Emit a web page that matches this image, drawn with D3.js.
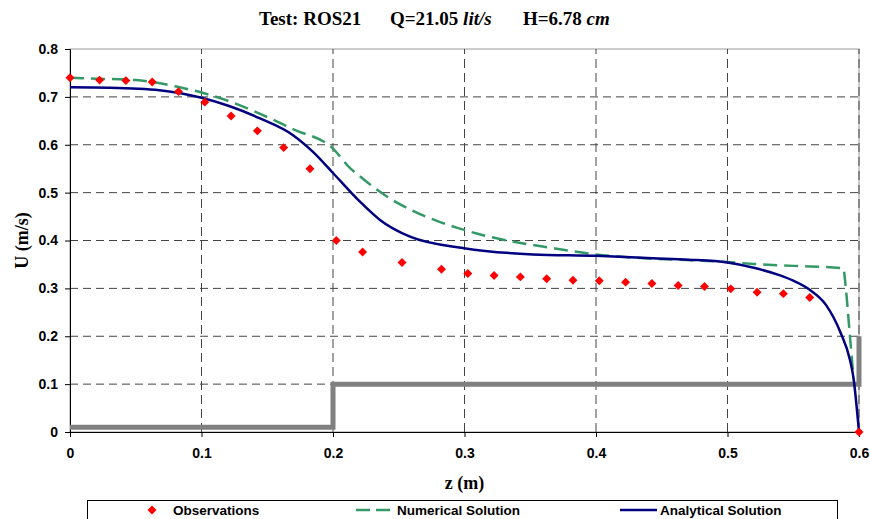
<!DOCTYPE html>
<html>
<head>
<meta charset="utf-8">
<script src="https://cdn.jsdelivr.net/npm/d3@7"></script>
<style>
  body { margin: 0; background: #fff; }
  svg { display: block; }
  .tick text { font-family: Arial, "Liberation Sans", sans-serif; font-weight: bold; font-size: 14px; fill: #000; }
</style>
</head>
<body>
<script>
// observed velocities (red diamonds)
var obsZ = [0, 0.0225, 0.0425, 0.0625, 0.0825, 0.1025, 0.1225, 0.1425, 0.1625, 0.1825,
            0.2025, 0.2225, 0.2525, 0.2825, 0.3025, 0.3225, 0.3425, 0.3625, 0.3825, 0.4025,
            0.4225, 0.4425, 0.4625, 0.4825, 0.5025, 0.5225, 0.5425, 0.5625, 0.6];
var obsU = [0.740, 0.735, 0.734, 0.731, 0.711, 0.689, 0.660, 0.629, 0.594, 0.550,
            0.400, 0.376, 0.354, 0.340, 0.331, 0.327, 0.324, 0.320, 0.317, 0.316,
            0.313, 0.310, 0.306, 0.304, 0.299, 0.292, 0.289, 0.281, 0];

// numerical solution (green dashed)
var numZ = [0, 0.02, 0.05, 0.08, 0.1, 0.12, 0.145, 0.17, 0.2, 0.213, 0.22, 0.233, 0.245,
            0.26, 0.279, 0.294, 0.31, 0.327, 0.365, 0.4, 0.43, 0.48, 0.5, 0.52, 0.55,
            0.588, 0.59, 0.5925, 0.5953];
var numU = [0.740, 0.738, 0.735, 0.722, 0.709, 0.692, 0.664, 0.632, 0.592, 0.551, 0.535, 0.507, 0.485,
            0.463, 0.441, 0.427, 0.414, 0.403, 0.385, 0.371, 0.364, 0.358, 0.355, 0.351, 0.347,
            0.342, 0.30, 0.22, 0.13];

// analytical solution (navy)
var anaZ = [0, 0.03, 0.068, 0.1, 0.1445, 0.1696, 0.1848, 0.2, 0.2205, 0.2357, 0.2586, 0.2996,
            0.352, 0.4, 0.443, 0.47, 0.5, 0.52, 0.54, 0.55, 0.5625, 0.575, 0.5856, 0.5932, 0.5957, 0.6];
var anaU = [0.720, 0.719, 0.714, 0.698, 0.655, 0.620, 0.585, 0.541, 0.481, 0.443, 0.408, 0.384,
            0.371, 0.368, 0.363, 0.360, 0.354, 0.343, 0.327, 0.316, 0.297, 0.265, 0.210, 0.150, 0.115, 0];

// channel bed step (grey)
var bedZ = [0, 0.2, 0.2, 0.6, 0.6];
var bedU = [0.01, 0.01, 0.1, 0.1, 0.2];

var xTicks = [0, 0.1, 0.2, 0.3, 0.4, 0.5, 0.6];
var yTicks = [0, 0.1, 0.2, 0.3, 0.4, 0.5, 0.6, 0.7, 0.8];

var width = 870, height = 519;
var margin = {left: 70, right: 11, top: 49, bottom: 87};

var svg = d3.select("body").append("svg")
    .attr("width", width)
    .attr("height", height);

var x = d3.scaleLinear().domain([0, 0.6]).range([margin.left, width - margin.right]);
var y = d3.scaleLinear().domain([0, 0.8]).range([height - margin.bottom, margin.top]);

var fmt = function(d) { return d === 0 ? "0" : d3.format(".1f")(d); };

// title
var title = svg.append("text")
    .attr("y", 25)
    .style("font-family", "'Times New Roman', 'Liberation Serif', serif")
    .style("font-weight", "bold")
    .style("font-size", "19px");
title.append("tspan").attr("x", 259).text("Test: ROS21");
title.append("tspan").attr("x", 390).text("Q=21.05 ");
title.append("tspan").style("font-style", "italic").text("lit/s");
title.append("tspan").attr("x", 523).text("H=6.78 ");
title.append("tspan").style("font-style", "italic").text("cm");

// plot frame
svg.append("rect")
    .attr("x", x(0)).attr("y", y(0.8))
    .attr("width", x(0.6) - x(0)).attr("height", y(0) - y(0.8))
    .attr("fill", "none").attr("stroke", "#999");

// grid
svg.append("g").selectAll("line")
    .data(yTicks.filter(function(d) { return d > 0 && d < 0.8; }))
    .enter().append("line")
    .attr("x1", x(0)).attr("x2", x(0.6))
    .attr("y1", function(d) { return y(d); }).attr("y2", function(d) { return y(d); })
    .attr("stroke", "#444").attr("stroke-dasharray", "8,5");

svg.append("g").selectAll("line")
    .data(xTicks.filter(function(d) { return d > 0; }))
    .enter().append("line")
    .attr("y1", y(0)).attr("y2", y(0.8))
    .attr("x1", function(d) { return x(d); }).attr("x2", function(d) { return x(d); })
    .attr("stroke", "#444").attr("stroke-dasharray", "9,5");

// axes
svg.append("g")
    .attr("transform", "translate(0," + y(0) + ")")
    .call(d3.axisBottom(x).tickValues(xTicks).tickFormat(fmt).tickSizeOuter(0).tickSize(5).tickPadding(11))
    .call(function(g) { g.select(".domain").attr("stroke", "#000"); });

svg.append("g")
    .attr("transform", "translate(" + x(0) + ",0)")
    .call(d3.axisLeft(y).tickValues(yTicks).tickFormat(fmt).tickSizeOuter(0).tickSize(5).tickPadding(7))
    .call(function(g) { g.select(".domain").attr("stroke", "#000"); });

// axis titles
svg.append("text")
    .attr("x", x(0.3)).attr("y", 489)
    .attr("text-anchor", "middle")
    .style("font-family", "'Times New Roman', 'Liberation Serif', serif")
    .style("font-weight", "bold").style("font-size", "18px")
    .text("z (m)");

svg.append("text")
    .attr("transform", "translate(28," + y(0.4) + ") rotate(-90)")
    .attr("text-anchor", "middle")
    .style("font-family", "'Times New Roman', 'Liberation Serif', serif")
    .style("font-weight", "bold").style("font-size", "18px")
    .text("U (m/s)");

// bed step
var bedLine = d3.line()
    .x(function(d, i) { return x(bedZ[i]); })
    .y(function(d, i) { return y(bedU[i]); });
svg.append("path")
    .attr("d", bedLine(bedZ))
    .attr("fill", "none").attr("stroke", "#808080").attr("stroke-width", 5);

// numerical
var numLine = d3.line()
    .x(function(d, i) { return x(numZ[i]); })
    .y(function(d, i) { return y(numU[i]); })
    .curve(d3.curveMonotoneX);
svg.append("path")
    .attr("d", numLine(numZ))
    .attr("fill", "none").attr("stroke", "#339966").attr("stroke-width", 2.5)
    .attr("stroke-dasharray", "14,7");

// analytical
var anaLine = d3.line()
    .x(function(d, i) { return x(anaZ[i]); })
    .y(function(d, i) { return y(anaU[i]); })
    .curve(d3.curveMonotoneX);
svg.append("path")
    .attr("d", anaLine(anaZ))
    .attr("fill", "none").attr("stroke", "#000080").attr("stroke-width", 2.5);

// observations: square turned 45 degrees
var diamond = d3.symbol().type(d3.symbolSquare).size(40);
svg.append("g").selectAll("path")
    .data(obsZ)
    .enter().append("path")
    .attr("d", diamond)
    .attr("transform", function(d, i) { return "translate(" + x(d) + "," + y(obsU[i]) + ") rotate(45)"; })
    .attr("fill", "#ff0000");

// legend
var leg = svg.append("g");
leg.append("rect")
    .attr("x", 87.5).attr("y", 500.5).attr("width", 750).attr("height", 30)
    .attr("fill", "#fff").attr("stroke", "#000");

leg.append("path")
    .attr("d", diamond)
    .attr("transform", "translate(152,510) rotate(45)")
    .attr("fill", "#ff0000");
leg.append("line")
    .attr("x1", 356).attr("x2", 392).attr("y1", 510).attr("y2", 510)
    .attr("stroke", "#339966").attr("stroke-width", 2.5).attr("stroke-dasharray", "14,6");
leg.append("line")
    .attr("x1", 620).attr("x2", 657).attr("y1", 510).attr("y2", 510)
    .attr("stroke", "#000080").attr("stroke-width", 2.5);

var legText = [["Observations", 173], ["Numerical Solution", 397], ["Analytical Solution", 660]];
leg.selectAll("text.lt")
    .data(legText)
    .enter().append("text")
    .attr("class", "lt")
    .attr("x", function(d) { return d[1]; }).attr("y", 515)
    .style("font-family", "Arial, 'Liberation Sans', sans-serif")
    .style("font-weight", "bold").style("font-size", "13.5px")
    .text(function(d) { return d[0]; });
</script>
</body>
</html>
